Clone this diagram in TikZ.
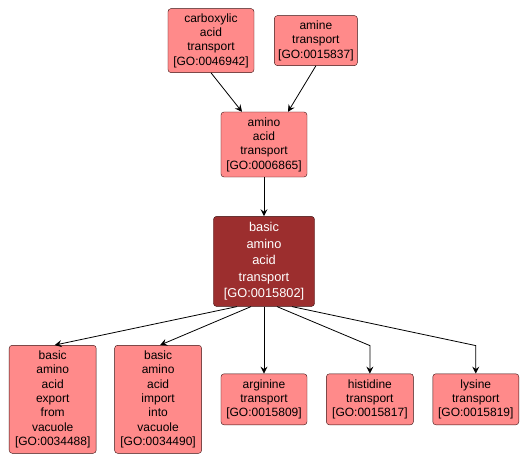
\documentclass[tikz,border=0pt]{standalone}
\usepackage{fontspec}
\setmainfont{Liberation Sans}
\usetikzlibrary{shapes,arrows,arrows.meta,positioning,calc}

\definecolor{goPink}{HTML}{FF8A8A}
\definecolor{goDark}{HTML}{9C2E2E}
\definecolor{goEdge}{HTML}{3A1010}

\begin{document}
\begin{tikzpicture}[
    box/.style={draw=goEdge, rounded corners=3pt, fill=goPink, align=center, inner sep=2pt,
                font=\fontsize{12}{14.3}\selectfont, minimum width=86pt},
    focus/.style={box, fill=goDark, text=white, font=\fontsize{12.8}{16.6}\selectfont},
    arrow/.style={->, >={Stealth[length=7pt,width=7pt,inset=2.5pt]}, line width=0.8pt}
]
  \useasboundingbox (-264pt,-318.5pt) rectangle (266pt,144.5pt);

  % Middle: parent term
  \node[box, minimum height=65pt] (amino_acid) at (0,0) {amino\\acid\\transport\\{[GO:0006865]}};

  % Top row: ancestors
  \node[box, minimum height=64pt, above=39pt of amino_acid, xshift=-53pt] (carboxylic) {carboxylic\\acid\\transport\\{[GO:0046942]}};
  \node[box, minimum width=83pt, minimum height=50pt, right=20pt of carboxylic] (amine) {amine\\transport\\{[GO:0015837]}};

  % Focus term
  \node[focus, minimum width=101pt, minimum height=90pt, below=39pt of amino_acid] (basic_aa) {basic\\amino\\acid\\transport\\{[GO:0015802]}};

  % Bottom row: children
  \node[box, minimum height=51pt, below=67pt of basic_aa] (arginine) {arginine\\transport\\{[GO:0015809]}};
  \node[box, minimum width=87pt, minimum height=51pt, right=19pt of arginine] (histidine) {histidine\\transport\\{[GO:0015817]}};
  \node[box, minimum height=51pt, right=19pt of histidine] (lysine) {lysine\\transport\\{[GO:0015819]}};
  \node[box, minimum width=87pt, minimum height=108pt, left=19pt of arginine] (aa_import) {basic\\amino\\acid\\import\\into\\vacuole\\{[GO:0034490]}};
  \node[box, minimum width=87pt, minimum height=108pt, left=18pt of aa_import] (aa_export) {basic\\amino\\acid\\export\\from\\vacuole\\{[GO:0034488]}};

  % Edges
  \draw[arrow] (carboxylic.south) -- ([xshift=-22pt]amino_acid.north);
  \draw[arrow] (amine.south) -- ([xshift=24pt]amino_acid.north);
  \draw[arrow] (amino_acid) -- (basic_aa);
  \draw[arrow] ([xshift=-27pt]basic_aa.south) -- ([xshift=2pt]aa_export.north);
  \draw[arrow] ([xshift=-13pt]basic_aa.south) -- ([xshift=2pt]aa_import.north);
  \draw[arrow] (basic_aa) -- (arginine);
  \draw[arrow] ([xshift=13pt]basic_aa.south) -- ([yshift=28pt]histidine.north) -- (histidine.north);
  \draw[arrow] ([xshift=28pt]basic_aa.south) -- ([yshift=28pt]lysine.north) -- (lysine.north);

\end{tikzpicture}
\end{document}
